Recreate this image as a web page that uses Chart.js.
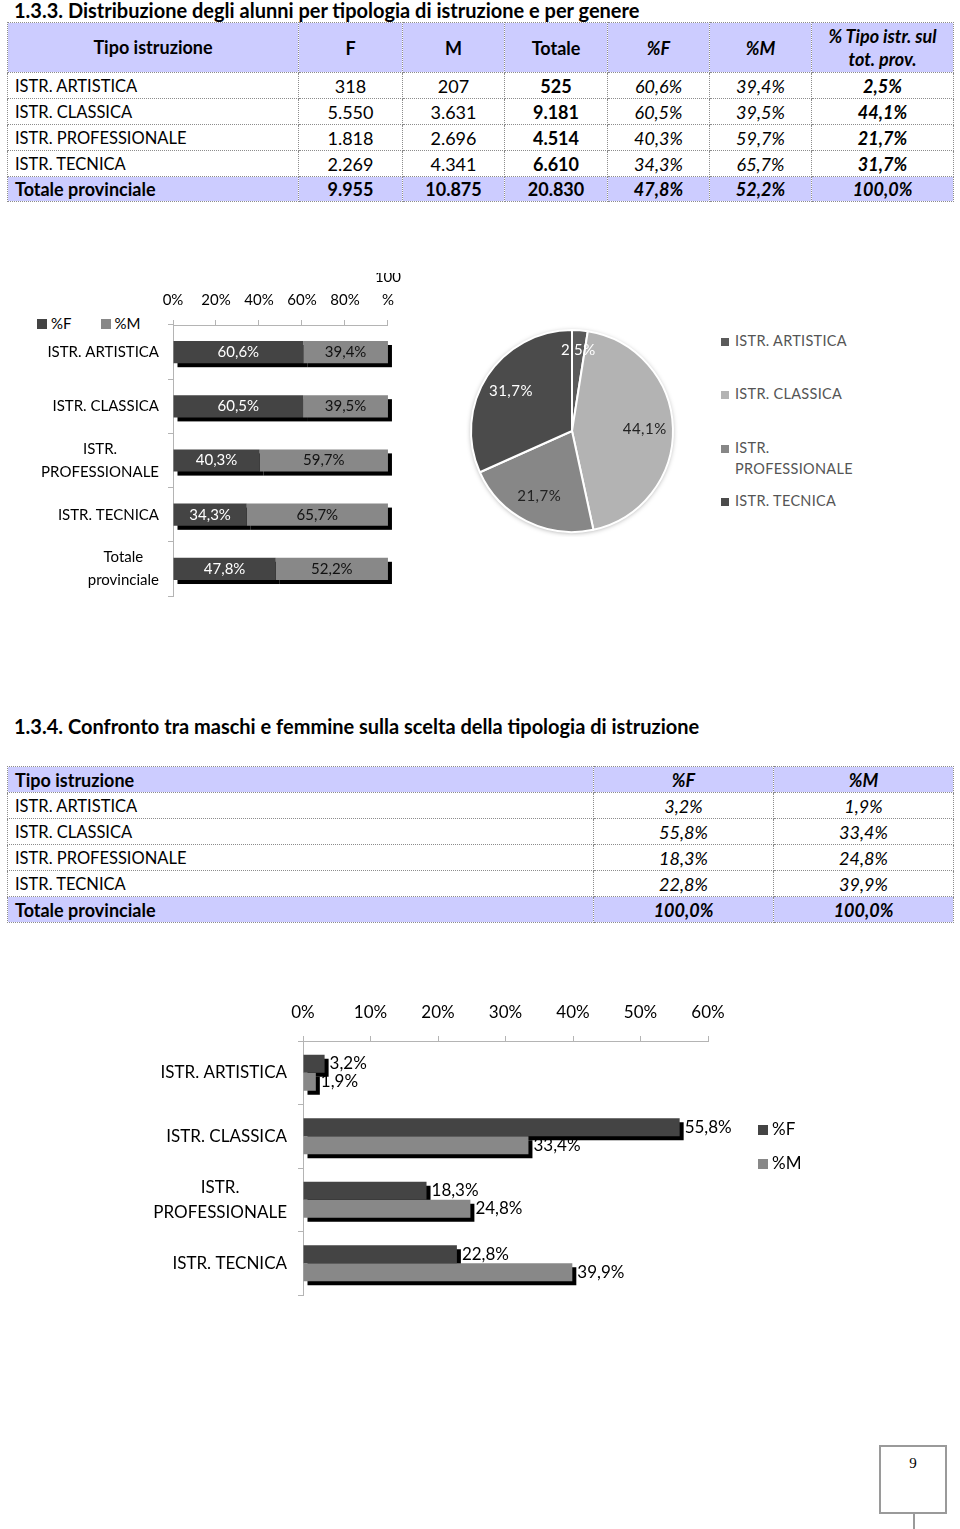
<!DOCTYPE html>
<html lang="it">
<head>
<meta charset="utf-8">
<title>Distribuzione degli alunni per tipologia di istruzione e per genere</title>
<script src="https://cdn.jsdelivr.net/npm/chart.js@4.4.1/dist/chart.umd.min.js"></script>
<style>
  body { margin: 0; background: #fff; font-family: Lato, "Noto Sans", sans-serif; color: #000; }
  .page { position: relative; width: 960px; height: 1529px; overflow: hidden; }
  .abs { position: absolute; }
  h2 { position: absolute; left: 14px; margin: 0; font-size: 20px; font-weight: 700; line-height: 20px; white-space: nowrap; }
  table { position: absolute; left: 7px; width: 946px; border-collapse: collapse; table-layout: fixed; font-size: 18px; }
  td { border: 1px dotted #8c8c8c; padding: 0 7px; line-height: 20px; white-space: nowrap; overflow: hidden; text-align: center; }
  td.name { text-align: left; font-size: 16.5px; }
  tr { height: 26px; }
  tr.head, tr.tot { background: #ccccff; font-weight: 700; }
  tr.head td, tr.tot td.name { font-size: 18px; }
  .b { font-weight: 700; }
  .i { font-style: italic; }
  .legend { position: absolute; font-size: 15px; line-height: 18px; white-space: nowrap; }
  .sq { display: inline-block; width: 10px; height: 10px; margin-right: 4px; vertical-align: 0; }
  .pieleg { position: absolute; left: 721px; font-size: 14.5px; letter-spacing: 0.3px; color: #555; line-height: 21px; }
  .pieleg .sq { width: 8px; height: 8px; margin-right: 6px; }
  .pageno { position: absolute; left: 879px; top: 1445px; width: 64px; height: 65px; border: 2px solid #9a9a9a;
            font-family: "Liberation Serif", serif; font-size: 15px; text-align: center; line-height: 32px; }
</style>
</head>
<body>
<div class="page">
  <h2 style="top:0">1.3.3. Distribuzione degli alunni per tipologia di istruzione e per genere</h2>
  <table id="tab1" style="top:22px">
    <colgroup><col style="width:291px"><col style="width:104px"><col style="width:102px"><col style="width:103px"><col style="width:102px"><col style="width:102px"><col style="width:142px"></colgroup>
    <tbody></tbody>
  </table>

  <div class="legend" style="left:37px;top:314px"><span class="sq" style="background:#444"></span>%F<span style="display:inline-block;width:29px"></span><span class="sq" style="background:#888"></span>%M</div>
  <div class="abs" style="left:30px;top:273px"><canvas id="stackChart" width="380" height="329"></canvas></div>

  <div class="abs" style="left:466px;top:325px"><canvas id="pieChart" width="212" height="212"></canvas></div>
  <div id="pieLegend"></div>

  <h2 style="top:716px">1.3.4. Confronto tra maschi e femmine sulla scelta della tipologia di istruzione</h2>
  <table id="tab2" style="top:766px">
    <colgroup><col style="width:586px"><col style="width:180px"><col style="width:180px"></colgroup>
    <tbody></tbody>
  </table>

  <div class="abs" style="left:150px;top:992px"><canvas id="groupChart" width="680" height="305"></canvas></div>
  <div class="legend" style="left:758px;top:1112px;font-size:17px;line-height:34px">
    <div><span class="sq" style="background:#444"></span>%F</div>
    <div><span class="sq" style="background:#888"></span>%M</div>
  </div>

  <div class="pageno">9</div>
  <div class="abs" style="left:913px;top:1512px;width:2px;height:17px;background:#9a9a9a"></div>
</div>

<script>
// data
const categories = ['ISTR. ARTISTICA', 'ISTR. CLASSICA', 'ISTR. PROFESSIONALE', 'ISTR. TECNICA'];
const totalLabel = 'Totale provinciale';
const femmine = [318, 5550, 1818, 2269, 9955];
const maschi = [207, 3631, 2696, 4341, 10875];
const totali = [525, 9181, 4514, 6610, 20830];
const pctF = [60.6, 60.5, 40.3, 34.3, 47.8];
const pctM = [39.4, 39.5, 59.7, 65.7, 52.2];
const quotaTipo = [2.5, 44.1, 21.7, 31.7, 100.0];
const quotaF = [3.2, 55.8, 18.3, 22.8, 100.0];
const quotaM = [1.9, 33.4, 24.8, 39.9, 100.0];
const ticks100 = [0, 20, 40, 60, 80, 100];
const ticks60 = [0, 10, 20, 30, 40, 50, 60];

const colF = '#444444';
const colM = '#888888';
const pieColors = ['#5a5a5a', '#b3b3b3', '#878787', '#4b4b4b'];
const pieText = ['#fff', '#222', '#222', '#fff'];
const axisCol = '#b4b4b4';

const fmtInt = n => String(n).replace(/\B(?=(\d{3})+(?!\d))/g, '.');
const fmtPct = v => v.toFixed(1).replace('.', ',') + '%';
const wrap = s => s.length > 16 ? [s.slice(0, s.indexOf(' ')), s.slice(s.indexOf(' ') + 1)] : [s];

// tables
const rows1 = categories.concat([totalLabel]);
let h1 = '<tr class="head" style="height:50px"><td style="line-height:23px">Tipo istruzione</td><td>F</td><td>M</td><td>Totale</td>' +
  '<td class="i">%F</td><td class="i">%M</td><td class="i" style="line-height:23px">% Tipo istr. sul<br>tot. prov.</td></tr>';
rows1.forEach((r, i) => {
  const tot = i === rows1.length - 1;
  h1 += `<tr${tot ? ' class="tot" style="height:25px"' : ''}><td class="name">${r}</td><td>${fmtInt(femmine[i])}</td>` +
    `<td>${fmtInt(maschi[i])}</td><td class="b">${fmtInt(totali[i])}</td><td class="i">${fmtPct(pctF[i])}</td>` +
    `<td class="i">${fmtPct(pctM[i])}</td><td class="b i">${fmtPct(quotaTipo[i])}</td></tr>`;
});
document.querySelector('#tab1 tbody').innerHTML = h1;

let h2 = '<tr class="head"><td class="name">Tipo istruzione</td><td class="i">%F</td><td class="i">%M</td></tr>';
rows1.forEach((r, i) => {
  const tot = i === rows1.length - 1;
  h2 += `<tr${tot ? ' class="tot"' : ''}><td class="name">${r}</td><td class="i">${fmtPct(quotaF[i])}</td><td class="i">${fmtPct(quotaM[i])}</td></tr>`;
});
document.querySelector('#tab2 tbody').innerHTML = h2;

// pie legend
const legTops = [330, 383, 437, 490];
document.getElementById('pieLegend').innerHTML = categories.map((c, i) =>
  `<div class="pieleg" style="top:${legTops[i]}px"><span class="sq" style="background:${pieColors[i]}"></span>${wrap(c).join('<br><span style="display:inline-block;width:14px"></span>')}</div>`
).join('');

// plugins
// black offset "3d" shadow under every bar, drawn before any bar so later bars cover it
const barShadow = {
  id: 'barShadow',
  beforeDatasetsDraw(chart, args, opts) {
    const ctx = chart.ctx;
    ctx.save();
    ctx.fillStyle = '#000';
    chart.data.datasets.forEach((ds, di) => {
      chart.getDatasetMeta(di).data.forEach(bar => {
        const { x, y, base, height } = bar.getProps(['x', 'y', 'base', 'height'], true);
        ctx.fillRect(Math.min(x, base) + opts.dx, y - height / 2 + opts.dy, Math.abs(x - base), height);
      });
    });
    ctx.restore();
  }
};

const valueLabels = {
  id: 'valueLabels',
  afterDatasetsDraw(chart, args, opts) {
    const ctx = chart.ctx;
    ctx.save();
    ctx.font = opts.font;
    ctx.textBaseline = 'middle';
    chart.data.datasets.forEach((ds, di) => {
      chart.getDatasetMeta(di).data.forEach((bar, i) => {
        const text = fmtPct(ds.data[i]);
        if (opts.inside) {
          ctx.textAlign = 'center';
          ctx.fillStyle = opts.colors[di];
          ctx.fillText(text, (bar.x + bar.base) / 2, bar.y);
        } else {
          ctx.textAlign = 'left';
          ctx.fillStyle = '#000';
          ctx.fillText(text, bar.x + opts.gap, bar.y);
        }
      });
    });
    ctx.restore();
  }
};

const categoryLabels = {
  id: 'categoryLabels',
  afterDraw(chart, args, opts) {
    const scale = chart.scales.y;
    const ctx = chart.ctx;
    ctx.save();
    ctx.font = opts.font;
    ctx.fillStyle = '#000';
    ctx.textAlign = 'center';
    ctx.textBaseline = 'middle';
    chart.data.labels.forEach((label, i) => {
      const lines = wrap(label);
      const w = Math.max(...lines.map(l => ctx.measureText(l).width));
      const cx = scale.right - opts.gap - w / 2;
      const cy = scale.getPixelForTick(i);
      lines.forEach((l, j) => ctx.fillText(l, cx, cy + (j - (lines.length - 1) / 2) * opts.lineHeight));
    });
    ctx.restore();
  }
};

const pieDecor = {
  id: 'pieDecor',
  beforeDatasetsDraw(chart) {
    const arc = chart.getDatasetMeta(0).data[0];
    const ctx = chart.ctx;
    ctx.save();
    ctx.shadowColor = 'rgba(0,0,0,0.35)';
    ctx.shadowBlur = 5;
    ctx.shadowOffsetY = 1;
    ctx.fillStyle = '#fff';
    ctx.beginPath();
    ctx.arc(arc.x, arc.y, arc.outerRadius, 0, Math.PI * 2);
    ctx.fill();
    ctx.restore();
  },
  afterDatasetsDraw(chart) {
    const ctx = chart.ctx;
    ctx.save();
    ctx.font = '15px Lato';
    ctx.letterSpacing = '0.5px';
    ctx.textAlign = 'center';
    ctx.textBaseline = 'middle';
    chart.getDatasetMeta(0).data.forEach((arc, i) => {
      const a = (arc.startAngle + arc.endAngle) / 2;
      const r = arc.outerRadius * (i === 0 ? 0.8 : 0.72);
      ctx.fillStyle = pieText[i];
      ctx.fillText(fmtPct(chart.data.datasets[0].data[i]), arc.x + r * Math.cos(a), arc.y + r * Math.sin(a));
    });
    ctx.restore();
  }
};

// stacked 100% bars
new Chart(document.getElementById('stackChart'), {
  type: 'bar',
  data: {
    labels: rows1,
    datasets: [
      { label: '%F', data: pctF, backgroundColor: colF },
      { label: '%M', data: pctM, backgroundColor: colM }
    ]
  },
  options: {
    indexAxis: 'y',
    responsive: false,
    animation: false,
    events: [],
    layout: { padding: { top: 0, right: 20, bottom: 6, left: 0 } },
    datasets: { bar: { categoryPercentage: 1, barPercentage: 0.41 } },
    scales: {
      x: {
        position: 'top', stacked: true, min: ticks100[0], max: ticks100[ticks100.length - 1],
        afterFit: s => { s.height = 52; },
        border: { color: axisCol },
        grid: { drawOnChartArea: false, color: axisCol, tickLength: 5 },
        ticks: {
          stepSize: ticks100[1] - ticks100[0], padding: 9, color: '#000',
          font: { family: 'Lato', size: 15, lineHeight: 1.5 },
          callback: v => v === 100 ? ['100', '%'] : v + '%'
        }
      },
      y: {
        stacked: true,
        afterFit: s => { s.width = 143; },
        border: { color: axisCol },
        grid: { drawOnChartArea: false, color: axisCol, tickLength: 5 },
        ticks: { display: false }
      }
    },
    plugins: {
      legend: { display: false },
      tooltip: { enabled: false },
      barShadow: { dx: 4, dy: 4 },
      valueLabels: { inside: true, font: '15px Lato', colors: ['#fff', '#111'] },
      categoryLabels: { font: '15px Lato', gap: 14, lineHeight: 23 }
    }
  },
  plugins: [barShadow, valueLabels, categoryLabels]
});

// pie
new Chart(document.getElementById('pieChart'), {
  type: 'pie',
  data: {
    labels: categories,
    datasets: [{ data: quotaTipo.slice(0, 4), backgroundColor: pieColors, borderColor: '#fff', borderWidth: 2 }]
  },
  options: {
    responsive: false,
    animation: false,
    events: [],
    layout: { padding: 4 },
    plugins: { legend: { display: false }, tooltip: { enabled: false } }
  },
  plugins: [pieDecor]
});

// grouped bars
new Chart(document.getElementById('groupChart'), {
  type: 'bar',
  data: {
    labels: categories,
    datasets: [
      { label: '%F', data: quotaF.slice(0, 4), backgroundColor: colF },
      { label: '%M', data: quotaM.slice(0, 4), backgroundColor: colM }
    ]
  },
  options: {
    indexAxis: 'y',
    responsive: false,
    animation: false,
    events: [],
    layout: { padding: { top: 0, right: 122, bottom: 2, left: 0 } },
    datasets: { bar: { categoryPercentage: 0.567, barPercentage: 1 } },
    scales: {
      x: {
        position: 'top', min: ticks60[0], max: ticks60[ticks60.length - 1],
        afterFit: s => { s.height = 49; },
        border: { color: axisCol },
        grid: { drawOnChartArea: false, color: axisCol, tickLength: 5 },
        ticks: {
          stepSize: ticks60[1] - ticks60[0], padding: 13, color: '#000',
          font: { family: 'Lato', size: 17 },
          callback: v => v + '%'
        }
      },
      y: {
        afterFit: s => { s.width = 153; },
        border: { color: axisCol },
        grid: { drawOnChartArea: false, color: axisCol, tickLength: 5 },
        ticks: { display: false }
      }
    },
    plugins: {
      legend: { display: false },
      tooltip: { enabled: false },
      barShadow: { dx: 4, dy: 4 },
      valueLabels: { inside: false, gap: 5, font: '17px Lato' },
      categoryLabels: { font: '17px Lato', gap: 16, lineHeight: 25 }
    }
  },
  plugins: [barShadow, valueLabels, categoryLabels]
});
</script>
</body>
</html>
